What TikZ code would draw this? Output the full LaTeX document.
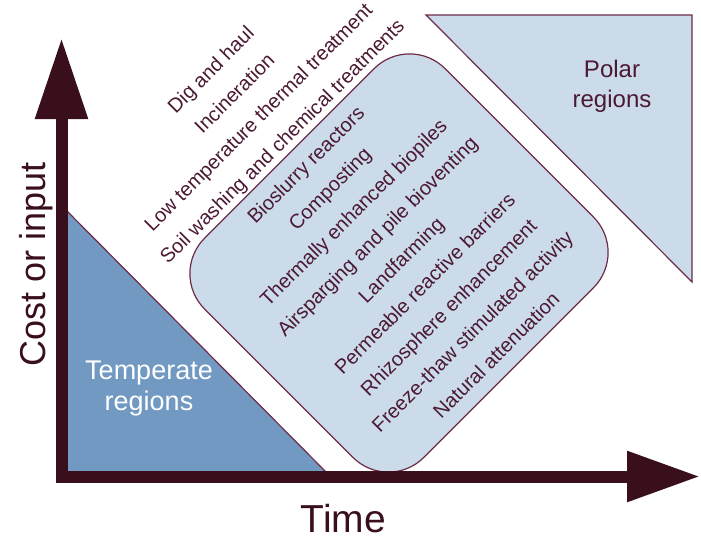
\documentclass[tikz,border=0pt]{standalone}
\usepackage{fontspec}
\setmainfont{Liberation Sans}
\usetikzlibrary{arrows.meta}

\definecolor{axiscol}{HTML}{3A0F1C}
\definecolor{inkcol}{HTML}{4B1934}
\definecolor{edgecol}{HTML}{6E2A48}
\definecolor{paleblue}{HTML}{CCDBE9}
\definecolor{midblue}{HTML}{7199C2}

\begin{document}
\begin{tikzpicture}[x=1pt,y=-1pt,
  method/.style={rotate=45, anchor=base, text=inkcol, inner sep=0pt,
    font=\fontsize{20}{24}\selectfont},
  region/.style={align=center, inner sep=0pt},
  outline/.style={draw=edgecol, line width=1.2pt}]
\useasboundingbox (0,0) rectangle (701,539);

% temperate region under the falling cost line
\fill[midblue] (61,205) -- (61,476) -- (330,476) -- cycle;
\draw[outline] (61,205) -- (330,476);
\node[region, text=white, font=\fontsize{27}{31}\selectfont] (temp) at (149,389) {Temperate\\regions};

% polar region in the upper right corner
\draw[outline, fill=paleblue] (426,15) -- (692,15) -- (692,282) -- cycle;
\node[region, text=inkcol, font=\fontsize{24}{30}\selectfont] (polar) at (612,86) {Polar\\regions};

% rounded box holding the biological treatments
\node[outline, fill=paleblue, rotate=45, rounded corners=50pt,
  minimum width=340pt, minimum height=310pt] (box) at (399,263) {};

% treatment methods, one centred line each, stepping down the diagonal
\foreach \txt [count=\i from 0] in {Dig and haul, Incineration,
    Low temperature thermal treatment, Soil washing and chemical treatments,
    Bioslurry reactors, Composting, Thermally enhanced biopiles,
    Airsparging and pile bioventing, Landfarming, Permeable reactive barriers,
    Rhizosphere enhancement, Freeze-thaw stimulated activity, Natural attenuation} {
  \pgfmathsetmacro\cc{290+47.6*\i}
  \node[method] (m\i) at ({(\cc+141)/2},{(\cc-141)/2}) {\txt};
}

% axes
\coordinate (ytip) at (61.5,38);
\coordinate (org) at (61.5,476.5);
\coordinate (xtip) at (700,476.5);
\draw[axiscol, line width=12pt, line join=miter,
  {Triangle[length=81pt,width=50pt]}-{Triangle[length=73pt,width=48pt]}]
  (ytip) -- (org) -- (xtip);

\node[anchor=base, text=axiscol, inner sep=0pt, font=\fontsize{39}{40}\selectfont] (tlab) at (343.5,532) {\smash{Time}};
\node[rotate=90, anchor=base, text=axiscol, inner sep=0pt, font=\fontsize{36}{40}\selectfont] (clab) at (45,264) {Cost or input};
\end{tikzpicture}
\end{document}
